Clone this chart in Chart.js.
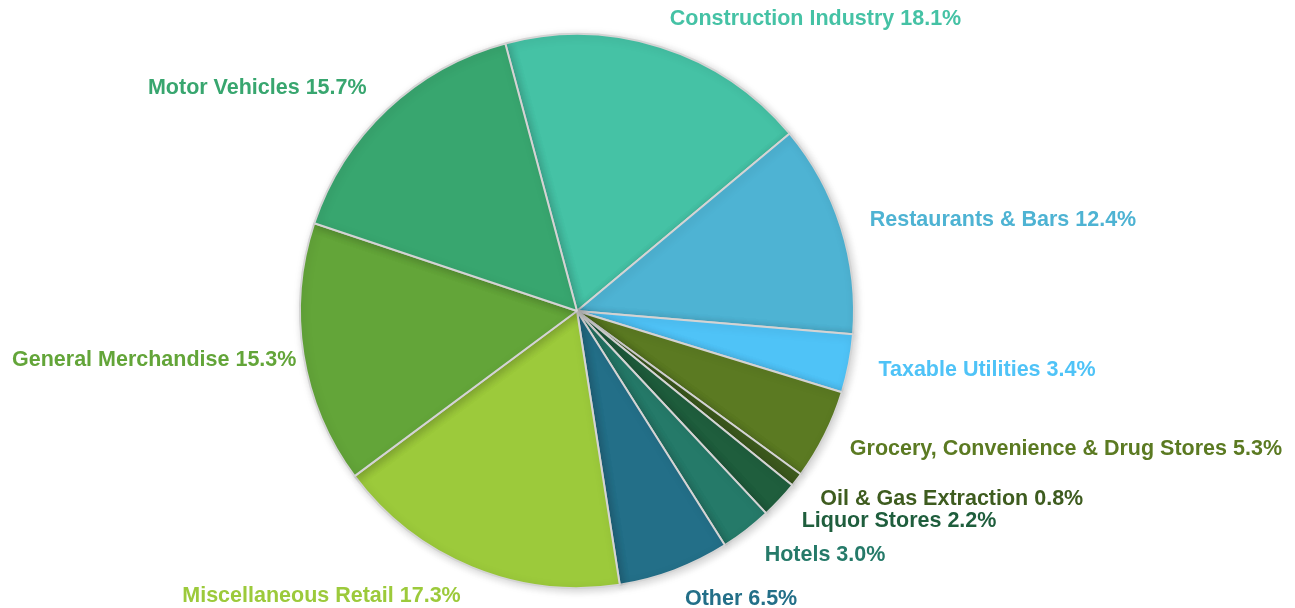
<!DOCTYPE html>
<html>
<head>
<meta charset="utf-8">
<script src="https://cdn.jsdelivr.net/npm/chart.js@4/dist/chart.umd.min.js"></script>
<style>
html,body{margin:0;padding:0;background:#fff;}
#wrap{width:1295px;height:608px;position:relative;}
</style>
</head>
<body>
<div id="wrap"><canvas id="c" width="1295" height="608"></canvas></div>
<script>
const categories = ["Construction Industry","Restaurants & Bars","Taxable Utilities","Grocery, Convenience & Drug Stores","Oil & Gas Extraction","Liquor Stores","Hotels","Other","Miscellaneous Retail","General Merchandise","Motor Vehicles"];
const shares = [18.1,12.4,3.4,5.3,0.8,2.2,3.0,6.5,17.3,15.3,15.7];
const sliceColors = ["#45C2A5","#4EB3D3","#4FC3F7","#5B7A22","#3E5C1F","#1F5E3D","#257A69","#236F88","#9CCA3B","#63A539","#38A66F"];

const labelPlugin = {
  id:'outLabels',
  afterDatasetsDraw(chart){
    const ctx = chart.ctx;
    const meta = chart.getDatasetMeta(0);
    ctx.save();
    ctx.font = 'bold 21.5px "Liberation Sans", Arial, sans-serif';
    ctx.textBaseline = 'middle';
    meta.data.forEach((arc,i)=>{
      const p = arc.getProps(['x','y','startAngle','endAngle','outerRadius'],true);
      const mid = (p.startAngle+p.endAngle)/2;
      const R = p.outerRadius + 30;
      let x = p.x + Math.cos(mid)*R;
      const y = p.y + Math.sin(mid)*R + 1;
      const text = categories[i] + ' ' + shares[i].toFixed(1) + '%';
      const w = ctx.measureText(text).width;
      const right = Math.cos(mid) >= 0;
      let left = right ? x : x - w;
      if (left < 12) left = 12;
      if (left + w > chart.width - 13) left = chart.width - 13 - w;
      ctx.lineWidth = 2;
      ctx.strokeStyle = 'rgba(255,255,255,0.9)';
      ctx.textAlign = 'left';
      ctx.strokeText(text, left, y);
      ctx.fillStyle = sliceColors[i];
      ctx.fillText(text, left, y);
    });
    ctx.restore();
  }
};

const shadowPlugin = {
  id:'pieShadow',
  beforeDatasetsDraw(chart){
    const ctx = chart.ctx;
    ctx.save();
    ctx.shadowColor = 'rgba(0,0,0,0.18)';
    ctx.shadowBlur = 8;
    ctx.shadowOffsetX = 2;
    ctx.shadowOffsetY = 2;
  },
  afterDatasetsDraw(chart){
    chart.ctx.restore();
  }
};

new Chart(document.getElementById('c'), {
  type:'pie',
  data:{
    labels:categories,
    datasets:[{
      data:shares,
      backgroundColor:sliceColors,
      borderColor:'#d4d4d4',
      borderWidth:2,
      hoverOffset:0
    }]
  },
  options:{
    responsive:false,
    animation:false,
    rotation:-15,
    layout:{padding:{left:299,right:440,top:33,bottom:19}},
    plugins:{legend:{display:false},tooltip:{enabled:false}}
  },
  plugins:[shadowPlugin,labelPlugin]
});
</script>
</body>
</html>
